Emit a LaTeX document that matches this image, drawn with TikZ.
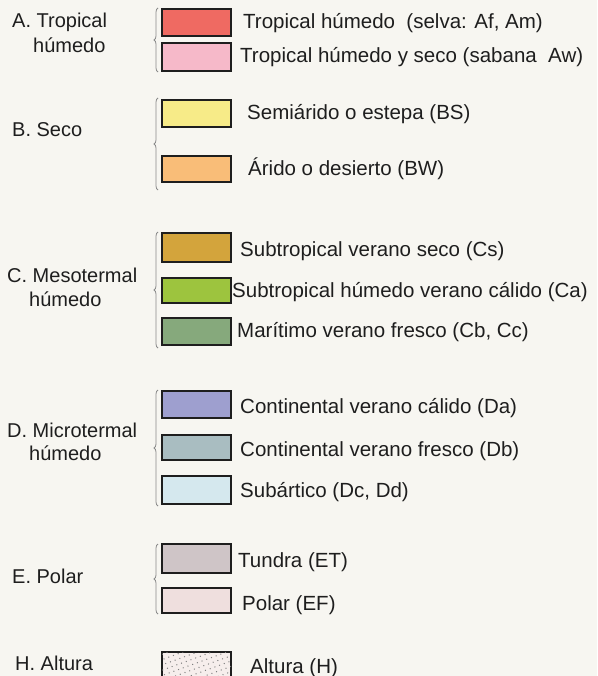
\documentclass[tikz,border=0pt]{standalone}
\usepackage{fontspec}
\setmainfont{Liberation Sans}
\usetikzlibrary{decorations.pathreplacing,patterns.meta}
\definecolor{bg}{HTML}{F7F6F1}
\definecolor{cA1}{HTML}{EF6A62}
\definecolor{cA2}{HTML}{F6B9C9}
\definecolor{cB1}{HTML}{F7EB88}
\definecolor{cB2}{HTML}{F9BD78}
\definecolor{cC1}{HTML}{D3A43C}
\definecolor{cC2}{HTML}{9DC43E}
\definecolor{cC3}{HTML}{86A97C}
\definecolor{cD1}{HTML}{9E9FCF}
\definecolor{cD2}{HTML}{A9BDC1}
\definecolor{cD3}{HTML}{D5E8EE}
\definecolor{cE1}{HTML}{CFC5C7}
\definecolor{cE2}{HTML}{EFDFDE}
\definecolor{cH}{HTML}{F6EEEC}
\definecolor{brc}{HTML}{8A8A8A}
\definecolor{ink}{HTML}{1E1E1E}
\begin{document}
\begin{tikzpicture}[x=1pt,y=-1pt,
  swatch/.style={draw=ink,line width=1.2pt,minimum width=69pt,inner sep=0pt,rectangle},
  lbl/.style={anchor=base west,inner sep=0pt,text=ink,font=\fontsize{20.5}{24}\selectfont},
  grp/.style={anchor=base west,inner sep=0pt,text=ink,font=\fontsize{20}{24}\selectfont},
  brc/.style={draw=brc,line width=0.8pt,decorate,decoration={brace,amplitude=4pt}}]
\useasboundingbox (0,0) rectangle (597,676);
\fill[bg] (0,0) rectangle (597,676);
% swatches
\node[swatch,fill=cA1,minimum height=27pt] (a1) at (196.5,22.5) {};
\node[swatch,fill=cA2,minimum height=28pt] (a2) at (196.5,57) {};
\node[swatch,fill=cB1,minimum height=27pt] (b1) at (196.5,113.5) {};
\node[swatch,fill=cB2,minimum height=26pt] (b2) at (196.5,169) {};
\node[swatch,fill=cC1,minimum height=29pt] (c1) at (196.5,247.5) {};
\node[swatch,fill=cC2,minimum height=25pt] (c2) at (196.5,290.5) {};
\node[swatch,fill=cC3,minimum height=27pt] (c3) at (196.5,331.5) {};
\node[swatch,fill=cD1,minimum height=27pt] (d1) at (196.5,404.5) {};
\node[swatch,fill=cD2,minimum height=25pt] (d2) at (196.5,447.5) {};
\node[swatch,fill=cD3,minimum height=28pt] (d3) at (196.5,490) {};
\node[swatch,fill=cE1,minimum height=29pt] (e1) at (196.5,558.5) {};
\node[swatch,fill=cE2,minimum height=25pt] (e2) at (196.5,600.5) {};
\node[swatch,fill=cH,minimum height=26pt,
  postaction={pattern={Dots[distance=5pt,radius=0.7pt,angle=20]},pattern color=gray}] (h1) at (196.5,665) {};
% item labels
\node[lbl] (ta1) at (243,29) {Tropical húmedo\ \ (selva: Af, Am)};
\node[lbl] (ta2) at (240,63) {Tropical húmedo y seco (sabana\ \ Aw)};
\node[lbl] (tb1) at (247,120) {Semiárido o estepa (BS)};
\node[lbl] (tb2) at (248,176) {Árido o desierto (BW)};
\node[lbl] (tc1) at (240,256) {Subtropical verano seco (Cs)};
\node[lbl] (tc2) at (232,297) {Subtropical húmedo verano cálido (Ca)};
\node[lbl] (tc3) at (237,337) {Marítimo verano fresco (Cb, Cc)};
\node[lbl] (td1) at (240,413) {Continental verano cálido (Da)};
\node[lbl] (td2) at (240,456) {Continental verano fresco (Db)};
\node[lbl] (td3) at (240,497) {Subártico (Dc, Dd)};
\node[lbl] (te1) at (238,567) {Tundra (ET)};
\node[lbl] (te2) at (242,610) {Polar (EF)};
\node[lbl] (th1) at (250,673) {Altura (H)};
% group labels
\node[grp] (ga) at (12,28) {A. Tropical};
\node[grp] (ga2) at (33,53) {húmedo};
\node[grp] (gb) at (12,137) {B. Seco};
\node[grp] (gc) at (7,282) {C. Mesotermal};
\node[grp] (gc2) at (29,306) {húmedo};
\node[grp] (gd) at (7,437) {D. Microtermal};
\node[grp] (gd2) at (29,460) {húmedo};
\node[grp] (ge) at (12,583) {E. Polar};
\node[grp] (gh) at (15,670) {H. Altura};
% braces
\coordinate (bA1) at (158,72); \coordinate (bA2) at (158,8);
\coordinate (bB1) at (158,190); \coordinate (bB2) at (158,98);
\coordinate (bC1) at (158,348); \coordinate (bC2) at (158,232);
\coordinate (bD1) at (158,506); \coordinate (bD2) at (158,390);
\coordinate (bE1) at (158,614); \coordinate (bE2) at (158,544);
\draw[brc] (bA1) -- (bA2);
\draw[brc] (bB1) -- (bB2);
\draw[brc] (bC1) -- (bC2);
\draw[brc] (bD1) -- (bD2);
\draw[brc] (bE1) -- (bE2);
\end{tikzpicture}
\end{document}
